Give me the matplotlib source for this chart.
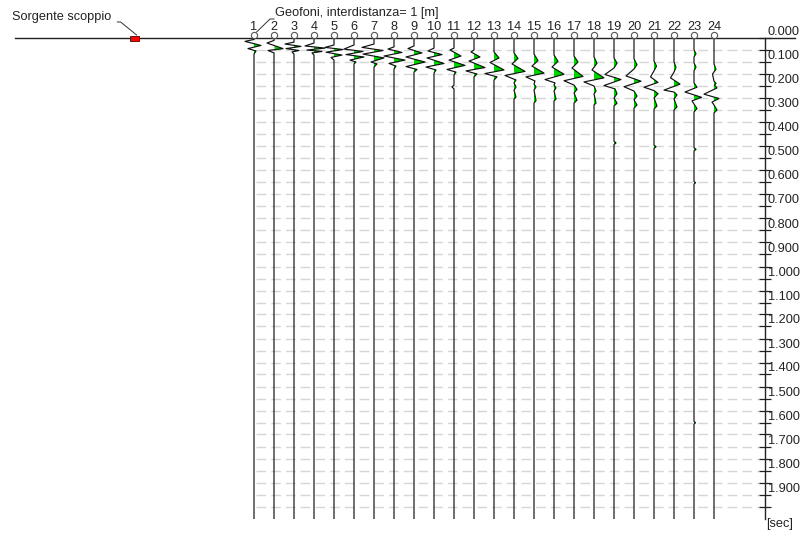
import numpy as np
import matplotlib
matplotlib.use('Agg')
import matplotlib.pyplot as plt

plt.rcParams['font.family'] = ['Liberation Sans', 'DejaVu Sans']

# geophone positions [m] and source position [m]
geo_x = list(range(1, 25))
geo_labels = [str(g) for g in geo_x]
source_x = -5.0

# time axis labels [s]
time_major = [round(0.1 * k, 1) for k in range(20)]
time_minor = [round(0.05 + 0.1 * k, 2) for k in range(20)]
time_labels = ['%.3f' % v for v in time_major]

# traces: (time ms, amplitude), positive = green lobe
tr01 = [(4, 0), (12, -9), (29, 7), (42, -6), (52, 2), (65, 0)]
tr02 = [(8, 0), (19, -7), (42, 9), (50, -6), (60, 0)]
tr03 = [(15, 0), (23, -9), (33, 7), (42, -8), (50, 5), (56, -2), (65, 0)]
tr04 = [(19, 0), (31, -9), (40, 11), (48, -7), (54, 8), (60, -2), (69, 0)]
tr05 = [(27, 0), (37, -9), (46, 9), (57, -8), (69, 8), (79, -3), (90, 0)]
tr06 = [(27, 0), (44, -10), (54, 9), (67, -8), (77, 10), (90, -4), (98, 2), (106, 0)]
tr07 = [(23, 0), (37, -12), (50, 9), (65, -11), (81, 10), (98, -3), (106, 3), (119, 0)]
tr08 = [(35, 0), (44, -6), (58, 8), (73, -10), (90, 11), (104, -5), (115, 2), (127, 0)]
tr09 = [(31, 0), (42, -6), (60, 8), (77, -8), (98, 11), (117, -8), (129, 3), (140, 0)]
tr10 = [(40, 0), (52, -6), (67, 8), (81, -7), (104, 10), (119, -8), (131, 2), (144, 0)]
tr11 = [(40, 0), (48, -4), (73, 7), (90, -5), (112, 11), (129, -7), (140, 2), (152, 0),
        (194, 0), (202, -2), (210, 0)]
tr12 = [(48, 0), (56, -3), (77, 6), (94, -5), (121, 11), (135, -8), (148, 3), (160, 0)]
tr13 = [(56, 0), (81, 5), (100, -4), (131, 10), (146, -9), (160, 3), (173, 0)]
tr14 = [(60, 0), (83, 4), (106, -2), (137, 11), (154, -9), (173, 2), (185, 0),
        (202, 2), (215, 0), (244, 2), (252, 0)]
tr15 = [(65, 0), (92, 4), (115, -2), (144, 10), (160, -8), (177, 1), (190, 0),
        (202, 2), (215, 0), (259, 2), (269, 0)]
tr16 = [(69, 0), (95, 4), (119, -2), (149, 10), (171, -9), (185, 1), (194, 0),
        (206, 2), (219, 0), (252, 2), (260, 0)]
tr17 = [(73, 0), (98, 4), (123, -2), (158, 9), (176, -10), (194, 0), (212, 3),
        (227, 0), (257, 3), (269, 0)]
tr18 = [(77, 0), (103, 3), (131, -2), (164, 10), (181, -10), (198, 0), (219, 2),
        (231, 0), (269, 2), (277, 0)]
tr19 = [(81, 0), (103, 3), (123, 0), (150, -9), (171, 7), (196, -10), (210, 1),
        (230, 3), (248, 0), (270, 3), (281, 0), (428, 0), (435, 2), (442, 0)]
tr20 = [(85, 0), (109, 3), (127, 0), (156, -8), (178, 7), (201, -10), (219, 0),
        (240, 3), (256, 0), (277, 3), (290, 0)]
tr21 = [(94, 0), (115, 2.5), (135, 0), (160, -3.5), (183, 4), (203, -10), (217, 0),
        (230, 4), (248, 0), (281, 3), (294, 0), (444, 0), (451, 2), (458, 0)]
tr22 = [(98, 0), (120, 2), (140, 0), (164, -3.5), (190, 6), (215, -10), (223, 0),
        (235, 3), (252, 0), (285, 3), (298, 0)]
tr23 = [(48, 0), (63, 2), (77, 0), (102, 0), (119, 2), (135, 0), (185, 0), (203, 3),
        (223, -9), (245, 7.5), (260, -2), (273, 0), (292, 3), (306, 0),
        (455, 0), (462, 2), (469, 0), (595, 0), (601, 1.5), (607, 0),
        (1595, 0), (1601, 1.5), (1607, 0)]
tr24 = [(106, 0), (128, 2), (148, -1.5), (178, 0), (187, 2), (194, 0.5), (206, 3),
        (232, -10), (250, 5), (265, -2), (277, 0), (298, 3), (310, 0)]

traces = [tr01, tr02, tr03, tr04, tr05, tr06, tr07, tr08, tr09, tr10, tr11, tr12,
          tr13, tr14, tr15, tr16, tr17, tr18, tr19, tr20, tr21, tr22, tr23, tr24]

gain = 0.05       # metres per amplitude unit
t_end = 2.0       # record length [s]

fig = plt.figure(figsize=(8.05, 5.36), dpi=100)
ax = fig.add_axes([15 / 805, 17.5 / 536, 750 / 805, 480 / 536])
ax.set_xlim(-10.95, 26.55)
ax.set_ylim(t_end, 0)

# dashed grid between the traces
ax.hlines(time_minor + time_major[1:], 1.1, 26.3, colors='#d6d6d6', linewidth=1.0,
          linestyles=(0, (7, 3.6)), zorder=1)

# traces
for gx, tr in zip(geo_x, traces):
    t = np.array([0.0] + [p[0] / 1000 for p in tr] + [t_end])
    a = np.array([0.0] + [p[1] for p in tr] + [0.0])
    xx = gx + a * gain
    ax.fill_betweenx(t, gx, xx, where=a > 0, interpolate=True, color='#00d400',
                     linewidth=0, zorder=2)
    ax.plot(xx, t, color='#111111', linewidth=0.85, zorder=3)

# ground surface line, geophones, source
ax.plot([-10.95, 28.05], [0, 0], color='#222222', linewidth=1.0, clip_on=False, zorder=4)
ax.plot(geo_x, [-0.0125] * len(geo_x), 'o', ms=4.5, mfc='white', mec='#555555',
        mew=0.8, clip_on=False, zorder=5)
for gx, lab in zip(geo_x, geo_labels):
    ax.text(gx, -0.048, lab, ha='center', va='center', fontsize=9.2, color='#222222')
ax.add_patch(plt.Rectangle((source_x - 0.225, -0.0115), 0.45, 0.02, facecolor='#ff0000',
                           edgecolor='#550000', linewidth=0.6, clip_on=False, zorder=6))

# annotations
ax.text(-11.1, -0.0896, 'Sorgente scoppio', ha='left', va='center', fontsize=9.2,
        color='#222222')
ax.plot([-5.83, -5.67, -4.87], [-0.0688, -0.0688, -0.0146], color='#333333',
        linewidth=0.7, clip_on=False)
ax.text(2.05, -0.106, 'Geofoni, interdistanza= 1 [m]', ha='left', va='center',
        fontsize=9.2, color='#222222')
ax.plot([1.13, 1.8, 2.0], [-0.027, -0.0813, -0.0813], color='#333333',
        linewidth=0.7, clip_on=False)
ax.text(26.6, 2.023, '[sec]', ha='left', va='center', fontsize=9.2, color='#222222')

# time axis on the right
for s in ['left', 'top', 'bottom']:
    ax.spines[s].set_visible(False)
ax.spines['right'].set_color('#222222')
ax.spines['right'].set_linewidth(1.0)
ax.set_xticks([])
ax.yaxis.tick_right()
ax.set_yticks(time_major)
ax.set_yticklabels(time_labels)
ax.set_yticks(time_minor, minor=True)
ax.tick_params(axis='y', which='both', direction='inout', length=8.6, width=0.9,
               color='#222222', labelsize=9.2, labelcolor='#222222', pad=-2.2)
for lab in ax.get_yticklabels():
    lab.set_va('bottom')

fig.savefig('out.png', dpi=100)
